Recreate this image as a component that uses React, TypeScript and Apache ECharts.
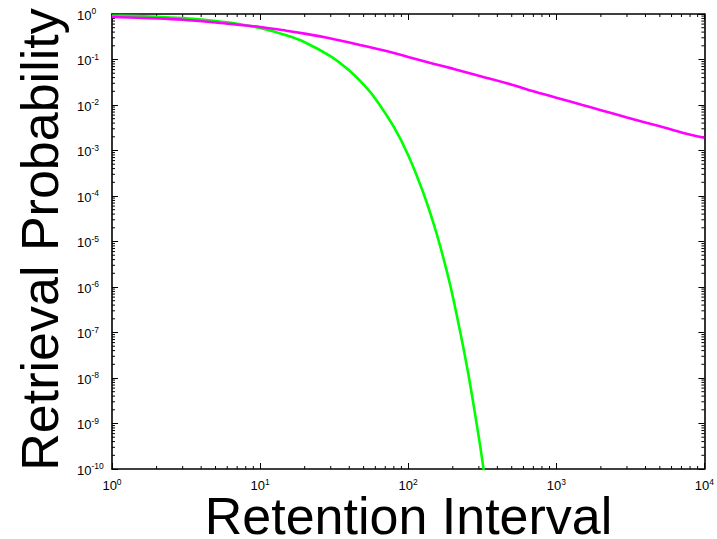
import React, { useEffect, useRef } from "react";
import * as echarts from "echarts";

// Axis ranges (log scale)
const X_MIN = 1;
const X_MAX = 10000;
const Y_MIN = 1e-10;
const Y_MAX = 1;

// Decade exponents used for ticks / labels
const xDecades = [0, 1, 2, 3, 4];
const yDecades = [-10, -9, -8, -7, -6, -5, -4, -3, -2, -1, 0];
const minorMultipliers = [2, 3, 4, 5, 6, 7, 8, 9];

// Green curve (fast, exponential-like decay)
const greenT = [1, 2, 3, 5, 7, 10, 15, 20, 30, 40, 50, 60, 80, 100, 125, 150, 175, 200, 250, 300, 330];
const greenP = [
  0.93, 0.87, 0.81, 0.7, 0.61, 0.49, 0.34, 0.24, 0.117, 0.057, 0.028, 0.0138, 0.0033, 7.9e-4,
  1.3e-4, 2.2e-5, 3.7e-6, 6.2e-7, 1.7e-8, 4.9e-10, 6e-11,
];

// Magenta curve (slow, power-law-like decay)
const magentaT = [1, 2, 3, 5, 7, 10, 15, 20, 30, 50, 70, 100, 150, 200, 300, 500, 700, 1000, 1500, 2000, 3000, 5000, 7000, 10000];
const magentaP = [
  0.86, 0.8, 0.75, 0.65, 0.58, 0.52, 0.43, 0.37, 0.29, 0.2, 0.155, 0.114, 0.08, 0.063, 0.044, 0.028,
  0.02, 0.0145, 0.01, 0.0077, 0.0053, 0.0034, 0.0025, 0.0019,
];

const X_TITLE = "Retention Interval";
const Y_TITLE = "Retrieval Probability";

const FONT = "'Liberation Sans', Arial, Helvetica, sans-serif";

const GRID = { left: 112, right: 12, top: 14, bottom: 70 };

function App() {
  const ref = useRef<HTMLDivElement>(null);

  useEffect(() => {
    if (!ref.current) return;
    const chart = echarts.init(ref.current, undefined, { renderer: "svg" });

    const minorData: number[][] = [];
    xDecades.slice(0, -1).forEach((e) => {
      minorMultipliers.forEach((m) => minorData.push([m * Math.pow(10, e), Y_MIN, 0]));
    });
    yDecades.slice(0, -1).forEach((e) => {
      minorMultipliers.forEach((m) => minorData.push([X_MIN, m * Math.pow(10, e), 1]));
    });

    const labelFormatter = (v: number) => {
      const e = Math.round(Math.log10(v));
      return `{b|10}{s|${e}}`;
    };
    const rich = {
      b: { fontSize: 13, fontFamily: FONT, color: "#000", lineHeight: 15, verticalAlign: "bottom" },
      s: { fontSize: 8.5, fontFamily: FONT, color: "#000", lineHeight: 9, verticalAlign: "top" },
    };

    const axisCommon = {
      type: "log",
      logBase: 10,
      axisLine: { show: true, lineStyle: { color: "#000", width: 1.6 } },
      axisTick: { show: true, inside: true, length: 6, lineStyle: { color: "#000", width: 1 } },
      splitLine: { show: false },
      minorTick: { show: false },
    };

    const plotW = 717 - GRID.left - GRID.right;
    const plotH = 539 - GRID.top - GRID.bottom;

    chart.setOption({
      animation: false,
      backgroundColor: "#fff",
      grid: { ...GRID, containLabel: false },
      xAxis: [
        {
          ...axisCommon,
          position: "bottom",
          min: X_MIN,
          max: X_MAX,
          interval: 1,
          axisLabel: { show: true, margin: 8, formatter: labelFormatter, rich },
        },
        {
          ...axisCommon,
          position: "top",
          min: X_MIN,
          max: X_MAX,
          interval: 1,
          axisLabel: { show: false },
        },
      ],
      yAxis: [
        {
          ...axisCommon,
          position: "left",
          min: Y_MIN,
          max: Y_MAX,
          interval: 1,
          axisLabel: { show: true, margin: 35, align: "left", formatter: labelFormatter, rich },
        },
        {
          ...axisCommon,
          position: "right",
          min: Y_MIN,
          max: Y_MAX,
          interval: 1,
          axisLabel: { show: false },
        },
      ],
      series: [
        {
          type: "custom",
          coordinateSystem: "cartesian2d",
          xAxisIndex: 0,
          yAxisIndex: 0,
          silent: true,
          clip: false,
          encode: { x: 0, y: 1 },
          data: minorData,
          renderItem: (params: any, api: any) => {
            const v0 = api.value(0);
            const v1 = api.value(1);
            const kind = api.value(2);
            const st = { stroke: "#000", lineWidth: 1 };
            if (kind === 0) {
              const b = api.coord([v0, Y_MIN]);
              const t = api.coord([v0, Y_MAX]);
              return {
                type: "group",
                children: [
                  { type: "line", shape: { x1: b[0], y1: b[1], x2: b[0], y2: b[1] - 3 }, style: st },
                  { type: "line", shape: { x1: t[0], y1: t[1], x2: t[0], y2: t[1] + 3 }, style: st },
                ],
              };
            }
            const l = api.coord([X_MIN, v1]);
            const r = api.coord([X_MAX, v1]);
            return {
              type: "group",
              children: [
                { type: "line", shape: { x1: l[0], y1: l[1], x2: l[0] + 3, y2: l[1] }, style: st },
                { type: "line", shape: { x1: r[0], y1: r[1], x2: r[0] - 3, y2: r[1] }, style: st },
              ],
            };
          },
          z: 1,
        },
        {
          type: "line",
          name: "exponential",
          data: greenT.map((t, i) => [t, greenP[i]]),
          showSymbol: false,
          smooth: 0.3,
          clip: true,
          lineStyle: { color: "#00ff00", width: 2.6 },
          itemStyle: { color: "#00ff00" },
          z: 3,
        },
        {
          type: "line",
          name: "power",
          data: magentaT.map((t, i) => [t, magentaP[i]]),
          showSymbol: false,
          smooth: 0.3,
          clip: true,
          lineStyle: { color: "#ff00ff", width: 2.6 },
          itemStyle: { color: "#ff00ff" },
          z: 4,
        },
      ],
      graphic: [
        {
          type: "text",
          x: GRID.left + plotW / 2,
          y: 516,
          style: {
            text: X_TITLE,
            fontSize: 52,
            lineHeight: 38,
            fontFamily: FONT,
            fill: "#000",
            align: "center",
            verticalAlign: "middle",
          },
        },
        {
          type: "text",
          x: 40,
          y: GRID.top + plotH / 2 - 2,
          rotation: Math.PI / 2,
          style: {
            text: Y_TITLE,
            fontSize: 52,
            lineHeight: 38,
            fontFamily: FONT,
            fill: "#000",
            align: "center",
            verticalAlign: "middle",
          },
        },
      ],
    });

    return () => chart.dispose();
  }, []);

  return (
    <div
      ref={ref}
      style={{ position: "absolute", left: 0, top: 0, width: 717, height: 539, background: "#fff" }}
    />
  );
}

export default App;
